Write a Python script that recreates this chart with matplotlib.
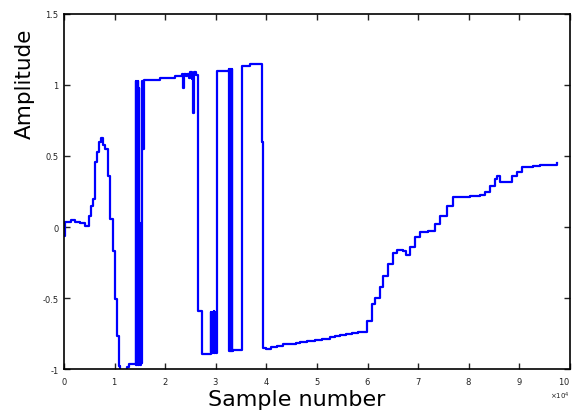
import matplotlib
matplotlib.use("Agg")
import matplotlib.pyplot as plt

# Sample index and amplitude of the recorded trace (staircase signal)
sample_idx = [
    0, 100, 1300, 2200, 3200, 4200, 4900, 5300, 5700, 6100, 6500, 6900, 7300,
    7700, 8100, 8700, 9100, 9700, 10000, 10500, 10900, 11000, 12400, 12800,
    # fast switching burst
    14200, 14300, 14400, 14500, 14600, 14700, 14800, 14900, 15000, 15100,
    15200, 15300, 15400,
    15600, 15850, 18900, 21900, 23300, 23500, 23700, 24200, 24400, 24800,
    25000, 25200, 25500, 25700, 26000,
    26500, 27300,
    # switching between the two low levels
    29000, 29100, 29200, 29300, 29400, 29500, 29600, 29700, 29800, 29900,
    30000, 30100,
    30250, 32600,
    # fast switching burst
    32700, 32800, 32900, 33000, 33100, 33200, 33300, 33400,
    35100, 36700, 39100, 39300,
    40000, 41000, 42000, 43200, 44500, 45800, 46600, 48000, 49600, 51000,
    52500, 53500, 54500, 55700, 56900, 58200, 59300,
    59900, 60900, 61500, 62400, 63000, 64000, 65000, 65800, 67000, 67600,
    68400, 69400, 70400, 71900, 73300, 74300, 75700, 76900, 79200, 80200,
    82200, 83200, 84200, 85200, 85500, 86200, 87700, 88500, 89500, 90500,
    92700, 94100, 97400,
]
amplitude = [
    -0.06, 0.035, 0.05, 0.035, 0.03, 0.01, 0.08, 0.15, 0.20, 0.46, 0.53, 0.60,
    0.63, 0.58, 0.55, 0.36, 0.06, -0.17, -0.51, -0.77, -0.98, -1.02, -0.985,
    -0.965,
    1.03, -0.97, 1.02, -0.96, 1.03, -0.97, 0.98, -0.96, 0.03, -0.97,
    0.02, -0.96, 1.03,
    0.55, 1.035, 1.05, 1.065, 1.075, 0.98, 1.075, 1.06, 1.08, 1.05,
    1.09, 1.04, 0.80, 1.09, 1.07,
    -0.59, -0.895,
    -0.60, -0.88, -0.61, -0.89, -0.60, -0.88, -0.59, -0.89, -0.60, -0.88,
    -0.61, -0.89,
    1.10, 1.11,
    -0.87, 1.11, -0.87, 1.11, -0.87, 1.11, -0.87, -0.865,
    1.13, 1.15, 0.60, -0.85,
    -0.855, -0.845, -0.835, -0.825, -0.82, -0.815, -0.81, -0.80, -0.796, -0.785,
    -0.775, -0.768, -0.76, -0.752, -0.746, -0.742, -0.74,
    -0.66, -0.54, -0.50, -0.42, -0.345, -0.26, -0.18, -0.16, -0.17, -0.20,
    -0.14, -0.07, -0.035, -0.03, 0.02, 0.08, 0.15, 0.21, 0.21, 0.22,
    0.225, 0.25, 0.29, 0.34, 0.36, 0.32, 0.32, 0.36, 0.39, 0.42,
    0.43, 0.44, 0.45,
]

x_ticks = [0, 10000, 20000, 30000, 40000, 50000, 60000, 70000, 80000, 90000, 100000]
y_ticks = [-1, -0.5, 0, 0.5, 1, 1.5]
y_tick_labels = ["-1", "-0.5", "0", "0.5", "1", "1.5"]

fig = plt.figure(figsize=(5.74, 4.14), dpi=100)
ax = fig.add_axes([0.1115, 0.106, 0.8815, 0.858])

ax.plot(sample_idx, amplitude, color="#0000ff", lw=1.6, drawstyle="steps-post")

ax.set_xlim(0, 100000)
ax.set_ylim(-1, 1.5)
ax.set_xticks(x_ticks)
ax.set_yticks(y_ticks)
ax.set_yticklabels(y_tick_labels)
ax.ticklabel_format(style="sci", axis="x", scilimits=(4, 4), useMathText=True)
ax.xaxis.get_offset_text().set_fontsize(5)

ax.tick_params(direction="in", length=4, width=1, top=True, right=True,
               labelsize=6, colors="#222222", pad=4)
for side in ax.spines.values():
    side.set_linewidth(1.2)

ax.set_xlabel("Sample number", fontsize=16)
ax.xaxis.set_label_coords(0.46, -0.055)
ax.set_ylabel("Amplitude", fontsize=15.5)
ax.yaxis.set_label_coords(-0.058, 0.806)

fig.canvas.draw()
ax.get_xticklabels()[-1].set_horizontalalignment("right")

fig.savefig("out.png", dpi=100)
